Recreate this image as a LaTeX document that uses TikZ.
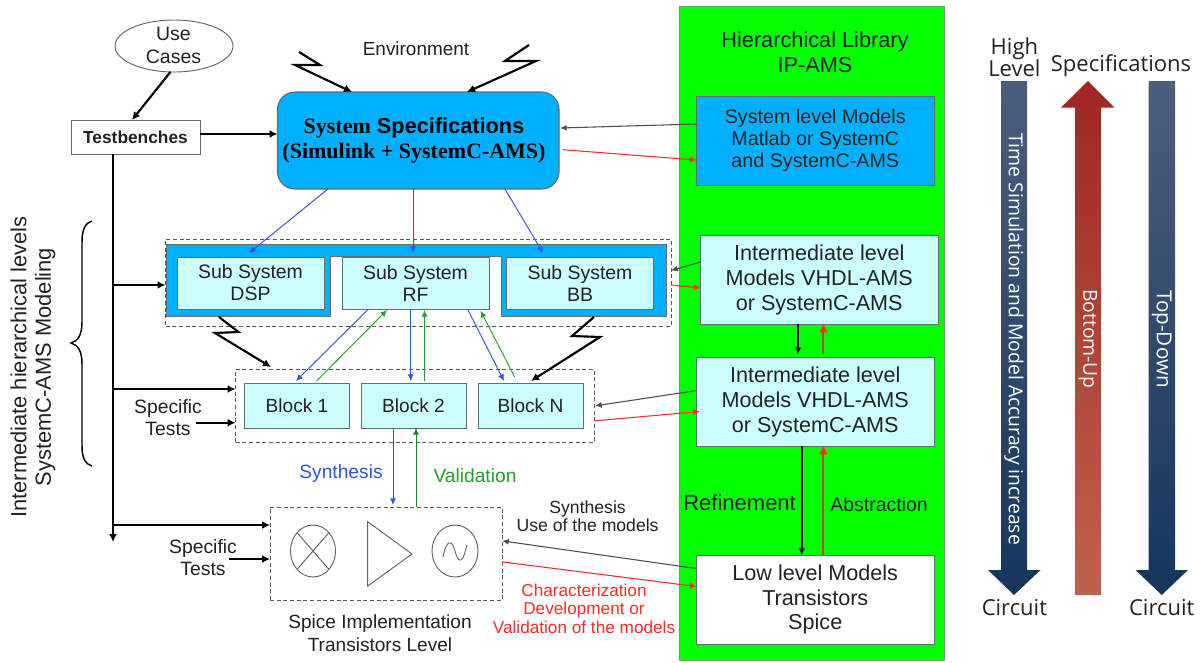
\documentclass[tikz,border=0pt]{standalone}
\usepackage{fontspec}
\setmainfont{Liberation Sans}
\newfontfamily\serfont{Liberation Serif}
\newfontfamily\segfont{Open Sans}
\usetikzlibrary{arrows.meta,calc,shapes.geometric}
\newcommand\sz[2]{\fontsize{#1}{#2}\selectfont}
\definecolor{libgreen}{HTML}{00FF00}
\definecolor{sysblue}{HTML}{00B0FF}
\definecolor{lightcy}{HTML}{CCFFFF}
\definecolor{ink}{HTML}{222222}
\definecolor{edge}{HTML}{5F6F70}
\definecolor{linkblue}{HTML}{2F55DD}
\definecolor{linkgreen}{HTML}{22A02A}
\definecolor{linkred}{HTML}{FF2A2A}
\definecolor{brownup}{HTML}{B04A10}
\definecolor{greyblue}{RGB}{76,94,125}
\definecolor{navy}{RGB}{20,54,92}
\definecolor{reddark}{RGB}{160,38,34}
\definecolor{redpale}{RGB}{190,98,78}
\tikzset{
 box/.style 2 args={draw=edge,line width=0.65pt,minimum width=#1*0.75pt,minimum height=#2*0.75pt,inner sep=0pt,outer sep=0pt,align=center,text=ink},
 dashbox/.style 2 args={draw=ink!75,densely dashed,line width=0.6pt,minimum width=#1*0.75pt,minimum height=#2*0.75pt,inner sep=0pt,outer sep=0pt},
 lbl/.style={align=center,text=ink,inner sep=0pt,font=\sz{14.3}{16.5}},
 thick arrow/.style={draw=black,line width=1.6pt,-{Latex[length=6pt,width=6pt]}},
 thin black/.style={draw=ink!80,line width=0.8pt,-{Latex[length=5pt,width=4.5pt]}},
 bluel/.style={draw=linkblue,line width=0.7pt,-{Latex[length=5pt,width=4.5pt]}},
 greenl/.style={draw=linkgreen,line width=0.7pt,-{Latex[length=5pt,width=4.5pt]}},
 redl/.style={draw=linkred,line width=0.8pt,-{Latex[length=5pt,width=4.5pt]}},
 sideText/.style={text=ink,inner sep=0pt,font=\segfont\sz{16.5}{16.8}},
 shaftText/.style={text=white,inner sep=0pt,rotate=-90,font=\segfont\sz{14.5}{16}},
 sym/.style={draw=ink!70,line width=0.7pt},
}
\begin{document}
\begin{tikzpicture}[x=0.75pt,y=-0.75pt]
\useasboundingbox (0,0) rectangle (1202,662);
\fill[white] (0,0) rectangle (1202,662);
% library panel
\node[draw=black!60!green!60,fill=libgreen,line width=0.7pt,minimum width=265*0.75pt,minimum height=654*0.75pt,inner sep=0pt,outer sep=0pt] (lib) at (811.5,333) {};
\node[text=ink,align=center,inner sep=0pt,font=\sz{16.3}{18.5}] (libtitle) at (815,52.5) {Hierarchical Library\\IP-AMS};
\node[box={237.5}{89},fill=sysblue,font=\sz{14.8}{16.6}] (msys) at (815.25,140.5) {System level Models\\Matlab or SystemC\\and SystemC-AMS};
\node[box={237.5}{89},fill=lightcy,font=\sz{16.2}{18.5}] (mint1) at (819.25,279.75) {Intermediate level\\Models VHDL-AMS\\or SystemC-AMS};
\node[box={237.5}{89},fill=lightcy,font=\sz{16.2}{18.5}] (mint2) at (815.25,401.75) {Intermediate level\\Models VHDL-AMS\\or SystemC-AMS};
\node[box={237.5}{89},fill=white,font=\sz{16.2}{18.5}] (mlow) at (815.25,599.5) {Low level Models\\Transistors\\Spice};
\node[text=ink,inner sep=0pt,font=\sz{16.5}{18}] (refine) at (739.6,503) {Refinement};
\node[text=ink,inner sep=0pt,font=\sz{14.6}{16}] (abstr) at (879,505) {Abstraction};
\draw[draw=black,line width=1.2pt,-{Latex[length=5pt,width=5pt]}] ($(mint1.south west)+(97.5,0)$) -- ($(mint2.north west)+(101.5,-3)$);
\draw[draw=brownup,line width=1.4pt] ($(mint2.north west)+(126.9,-3)$) -- ($(mint1.south west)+(122.9,8)$);
\draw[draw=none,fill=linkred] ($(mint1.south west)+(122.9,0)$) -- ++(-4,8) -- ++(8,0) -- cycle;
\draw[draw=black,line width=1.2pt,-{Latex[length=5pt,width=5pt]}] ($(mint2.south west)+(105.2,0)$) -- ($(mlow.north west)+(105.2,0)$);
\draw[draw=brownup,line width=1.4pt] ($(mlow.north west)+(126.9,0)$) -- ($(mint2.south west)+(126.9,8)$);
\draw[draw=none,fill=linkred] ($(mint2.south west)+(126.9,0)$) -- ++(-4,8) -- ++(8,0) -- cycle;
% top left
\node[draw=ink!70,ellipse,line width=0.7pt,minimum width=118*0.75pt,minimum height=52*0.75pt,inner sep=0pt,outer sep=0pt] (uc) at (174,46) {};
\node[lbl,font=\sz{14.6}{17}] (uct) at (173.5,45.5) {Use\\Cases};
\node[box={129}{34},fill=white,font=\bfseries\sz{13}{14}] (tb) at (135.5,137) {Testbenches};
\node[draw=edge,fill=sysblue,rounded corners=13pt,line width=0.8pt,minimum width=281.5*0.75pt,minimum height=97*0.75pt,inner sep=0pt,outer sep=0pt] (sys) at (418.25,140.5) {};
\node[inner sep=0pt,align=center,text=black,font=\sz{16.5}{18.7}] (syst) at (414,140.5) {{\serfont\bfseries System} {\bfseries\sz{16.3}{18.7}Specifications}\\{\serfont\bfseries (Simulink + SystemC-AMS)}};
\node[lbl,font=\sz{14.2}{16}] (env) at (416,49) {Environment};
\draw[thick arrow] ($(uc.south)+(-3.6,0)$) -- ($(tb.north)+(-3.5,0)$);
\draw[thick arrow] ($(tb.east)+(0,-3)$) -- ($(sys.west)+(0,-6.5)$);
\coordinate (zla) at (299,52);
\coordinate (zra) at (529,45);
\draw[thick arrow] (zla) -- (320,65) -- (295,65) -- ($(sys.north west)+(74.5,0)$);
\draw[thick arrow] (zra) -- (505,61) -- (536,61) -- ($(sys.north west)+(189.5,0)$);
% subsystems
\node[dashbox={505.5}{87}] (subo) at (418.25,282.5) {};
\path[fill=sysblue,draw=edge,line width=0.7pt] (166.5,244) -- (666,244) -- (666,316) -- (501,316) -- (501,256) -- (330,256) -- (330,316) -- (166.5,316) -- cycle;
\node[box={147}{52},fill=lightcy,font=\sz{14.6}{16.5}] (dsp) at (250.5,283) {Sub System\\DSP};
\node[box={147}{52},fill=lightcy,font=\sz{14.6}{16.5}] (rf) at (415.5,283) {Sub System\\RF};
\node[box={147}{52},fill=lightcy,font=\sz{14.6}{16.5}] (bb) at (580,283) {Sub System\\BB};
\draw[bluel] ($(sys.south west)+(50.5,0)$) -- ($(dsp.north)+(-1.5,-4)$);
\draw[bluel] ($(sys.south west)+(135.5,0)$) -- ($(rf.north)+(-2.5,-4)$);
\draw[bluel] ($(sys.south west)+(227.5,0)$) -- ($(bb.north)+(-37,-4)$);
% blocks
\node[dashbox={358.5}{73.7}] (blko) at (414.75,405.85) {};
\node[box={105}{45},fill=lightcy,font=\sz{14.3}{15}] (b1) at (297,405.5) {Block 1};
\node[box={105}{45},fill=lightcy,font=\sz{14.3}{15}] (b2) at (413.5,405.5) {Block 2};
\node[box={105}{45},fill=lightcy,font=\sz{14.3}{15}] (bn) at (530.5,405.5) {Block N};
\draw[bluel] ($(rf.south west)+(26.5,0)$) -- ($(b1.north)+(-1,-2)$);
\draw[greenl] ($(b1.north)+(19.5,-2)$) -- ($(rf.south west)+(45,1)$);
\draw[bluel] ($(rf.south west)+(68.7,0)$) -- ($(b2.north west)+(49.7,-2)$);
\draw[greenl] ($(b2.north west)+(63.5,-2)$) -- ($(rf.south west)+(82.5,1)$);
\draw[bluel] ($(rf.south west)+(125.5,0)$) -- ($(bn.north west)+(26,-2)$);
\draw[greenl] ($(bn.north west)+(36.7,-6)$) -- ($(rf.south west)+(138.5,1.7)$);
\coordinate (zlb) at (219,317);
\coordinate (zrb) at (594,317);
\draw[thick arrow] (zlb) -- (238.5,332) -- (215,333) -- ($(blko.north west)+(35.5,-2)$);
\draw[thick arrow] (zrb) -- (572,336) -- (600,337) -- ($(bn.north west)+(53,-2)$);
% trunk
\coordinate (trunkend) at (113,542);
\draw[thick arrow] ($(tb.south west)+(42,0)$) -- (trunkend);
\coordinate (t1) at (113,285);
\coordinate (t2) at (113,389);
\coordinate (t3) at (113,525);
\draw[thick arrow] (t1) -- (t1 -| subo.west);
\draw[thick arrow] (t2) -- (t2 -| blko.west);
% spice
\node[dashbox={232}{93.7}] (spi) at (386,553.85) {};
\draw[thick arrow] (t3) -- (t3 -| spi.west);
\node[lbl,font=\sz{14.5}{16.5}] (st1) at (168,418) {Specific\\Tests};
\node[lbl,font=\sz{14.5}{16.5}] (st2) at (203,558) {Specific\\Tests};
\coordinate (st1a) at (196,422.7);
\coordinate (st2a) at (229,559);
\draw[thick arrow] (st1a) -- (st1a -| blko.west);
\draw[thick arrow] (st2a) -- (st2a -| spi.west);
\draw[bluel] ($(b2.south west)+(32,0)$) -- ($(spi.north west)+(123,-2)$);
\draw[draw=linkgreen!80!black,line width=0.7pt,-{Latex[length=5pt,width=4.5pt]}] ($(spi.north west)+(146,0)$) -- ($(b2.south west)+(55,0)$);
\node[text=linkblue,inner sep=0pt,font=\sz{14.4}{15}] (syn) at (341,474) {Synthesis};
\node[text=linkgreen,inner sep=0pt,font=\sz{14.4}{15}] (val) at (475,475.7) {Validation};
\node[sym,ellipse,minimum width=45*0.75pt,minimum height=52*0.75pt,inner sep=0pt,outer sep=0pt] (mix) at (313,551) {};
\draw[sym] (mix.north west) -- (mix.south east) (mix.north east) -- (mix.south west);
\draw[sym] (367.7,521.7) -- (412,554) -- (367.7,586) -- cycle;
\node[sym,ellipse,minimum width=46*0.75pt,minimum height=52*0.75pt,inner sep=0pt,outer sep=0pt] (osc) at (455,551) {};
\draw[sym] (443,557) .. controls (445,548) and (447,541) .. (451,543) .. controls (455,545) and (456,562) .. (461,560) .. controls (464,558) and (465,552) .. (467,545);
\node[lbl,font=\sz{14.3}{16.8}] (spit) at (380,633) {Spice Implementation\\Transistors Level};
\node[lbl,font=\sz{13.2}{13.8}] (synu) at (587.6,516) {Synthesis\\Use of the models};
\node[lbl,text=linkred,font=\sz{12.9}{14}] (chart) at (584,608.7) {Characterization\\Development or\\Validation of the models};
% model links
\draw[thin black] ($(msys.west)+(0,-16.5)$) -- ($(sys.east)+(1,-12.5)$);
\draw[redl] ($(sys.east)+(4,9.2)$) -- ($(msys.west)+(0,19.5)$);
\draw[thin black] ($(mint1.west)+(0,-17.7)$) -- ($(subo.east)+(0,-12)$);
\draw[redl] ($(subo.east)+(0,2.5)$) -- ($(mint1.west)+(0,8.2)$);
\draw[thin black] ($(mint2.west)+(0,-11.2)$) -- ($(blko.east)+(1,0)$);
\draw[redl] ($(blko.east)+(1,15)$) -- ($(mint2.west)+(3.5,9.7)$);
\draw[thin black] ($(mlow.west)+(0,-31)$) -- ($(spi.east)+(0,-13)$);
\draw[redl] ($(spi.east)+(0,8)$) -- ($(mlow.west)+(0,-13)$);
% left labels
\node[rotate=90,text=ink,inner sep=0pt,align=center,font=\sz{16.4}{18.4}] (hier) at (33,367) {Intermediate hierarchical levels\\SystemC-AMS Modeling};
\draw[draw=black,line width=1.1pt] (92,221) .. controls (85,223) and (82,230) .. (82,242) -- (82,322) .. controls (82,335) and (78,341) .. (71,343) .. controls (78,345) and (82,351) .. (82,364) -- (82,446) .. controls (82,458) and (85,464) .. (92,466);
% right arrows
\shade[top color=greyblue,bottom color=navy] (1001,81) -- (1027,81) -- (1027,570) -- (1040.5,570) -- (1014,595) -- (988,570) -- (1001,570) -- cycle;
\shade[top color=reddark,bottom color=redpale] (1075,595) -- (1101,595) -- (1101,107.6) -- (1114.5,107.6) -- (1088,81) -- (1061,107.6) -- (1075,107.6) -- cycle;
\shade[top color=greyblue,bottom color=navy] (1148.5,81) -- (1175,81) -- (1175,570) -- (1188,570) -- (1161.7,595) -- (1135.5,570) -- (1148.5,570) -- cycle;
\node[shaftText] (tsim) at (1014,339) {Time Simulation and Model Accuracy increase};
\node[shaftText] (bup) at (1088,339) {Bottom-Up};
\node[shaftText,font=\segfont\sz{15.5}{16}] (tdn) at (1161.7,339) {Top-Down};
\node[sideText,align=center] (high) at (1014.4,57.5) {High\\Level};
\node[sideText] (spec) at (1121,66) {Specifications};
\node[sideText] (c1) at (1014.4,608) {Circuit};
\node[sideText] (c2) at (1161.7,608) {Circuit};
\end{tikzpicture}
\end{document}
